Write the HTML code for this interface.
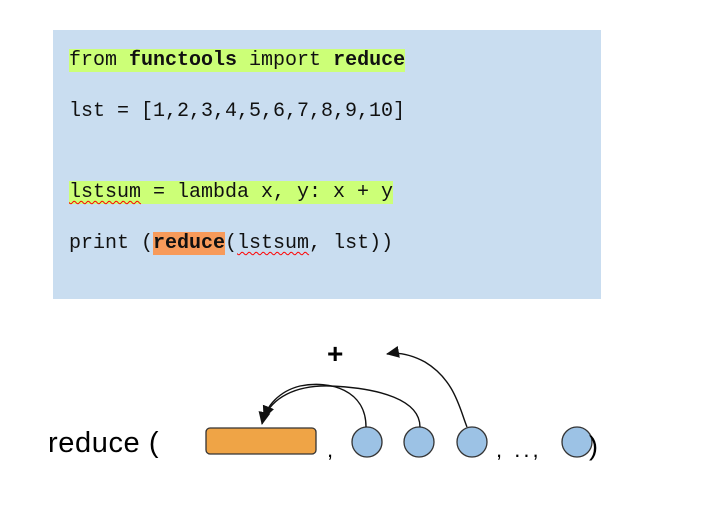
<!DOCTYPE html>
<html><head><meta charset="utf-8"><style>
body{margin:0;width:728px;height:531px;background:#fff;position:relative;overflow:hidden}
.box{position:absolute;left:53px;top:30px;width:548px;height:269px;background:#c9ddf0}
.l{position:absolute;left:69px;font-family:"Liberation Mono",monospace;font-size:20px;line-height:27px;white-space:pre;color:#111}
.hl{background:#ccff77}
.or{background:#f79a5a}
.sq{text-decoration:underline wavy red;text-decoration-thickness:1px;text-underline-offset:3px}
</style></head><body>
<div class="box"></div>
<div class="l" style="top:47px"><span class="hl">from <b>functools</b> import <b>reduce</b></span></div>
<div class="l" style="top:98px">lst = [1,2,3,4,5,6,7,8,9,10]</div>
<div class="l" style="top:179px"><span class="hl"><span class="sq">lstsum</span> = lambda x, y: x + y</span></div>
<div class="l" style="top:230px">print (<b class="or">reduce</b>(<span class="sq">lstsum</span>, lst))</div>
<svg width="728" height="531" style="position:absolute;left:0;top:0">
<defs><marker id="a" markerWidth="14" markerHeight="14" refX="12" refY="6" orient="auto" markerUnits="userSpaceOnUse"><path d="M0,0 L13,6 L0,12 z" fill="#111"/></marker></defs>
<text x="48" y="452" font-family="Liberation Sans,sans-serif" font-size="29" letter-spacing="0.6" fill="#000">reduce (</text>
<rect x="206" y="428" width="110" height="26" rx="4" fill="#efa446" stroke="#333" stroke-width="1.3"/>
<text x="327" y="457" font-family="Liberation Sans,sans-serif" font-size="22">,</text>
<g fill="#9cc2e5" stroke="#333" stroke-width="1.3">
<circle cx="367" cy="442" r="15"/><circle cx="419" cy="442" r="15"/><circle cx="472" cy="442" r="15"/><circle cx="577" cy="442" r="15"/></g>
<text x="496" y="457" font-family="Liberation Sans,sans-serif" font-size="22" letter-spacing="3">, ..,</text>
<text x="589" y="455" font-family="Liberation Sans,sans-serif" font-size="27">)</text>
<text x="327" y="363" font-family="Liberation Sans,sans-serif" font-size="28" font-weight="bold">+</text>
<g fill="none" stroke="#111" stroke-width="1.4">
<path d="M366,427 C366,390 330,380 300,386 C280,391 266,405 262,424" marker-end="url(#a)"/>
<path d="M420,427 C420,400 380,388 330,386 C295,385 272,398 264,418" marker-end="url(#a)"/>
<path d="M467,427 C460,410 455,380 425,362 C410,354 398,352 387,354" marker-end="url(#a)"/>
</g>
</svg>
</body></html>
